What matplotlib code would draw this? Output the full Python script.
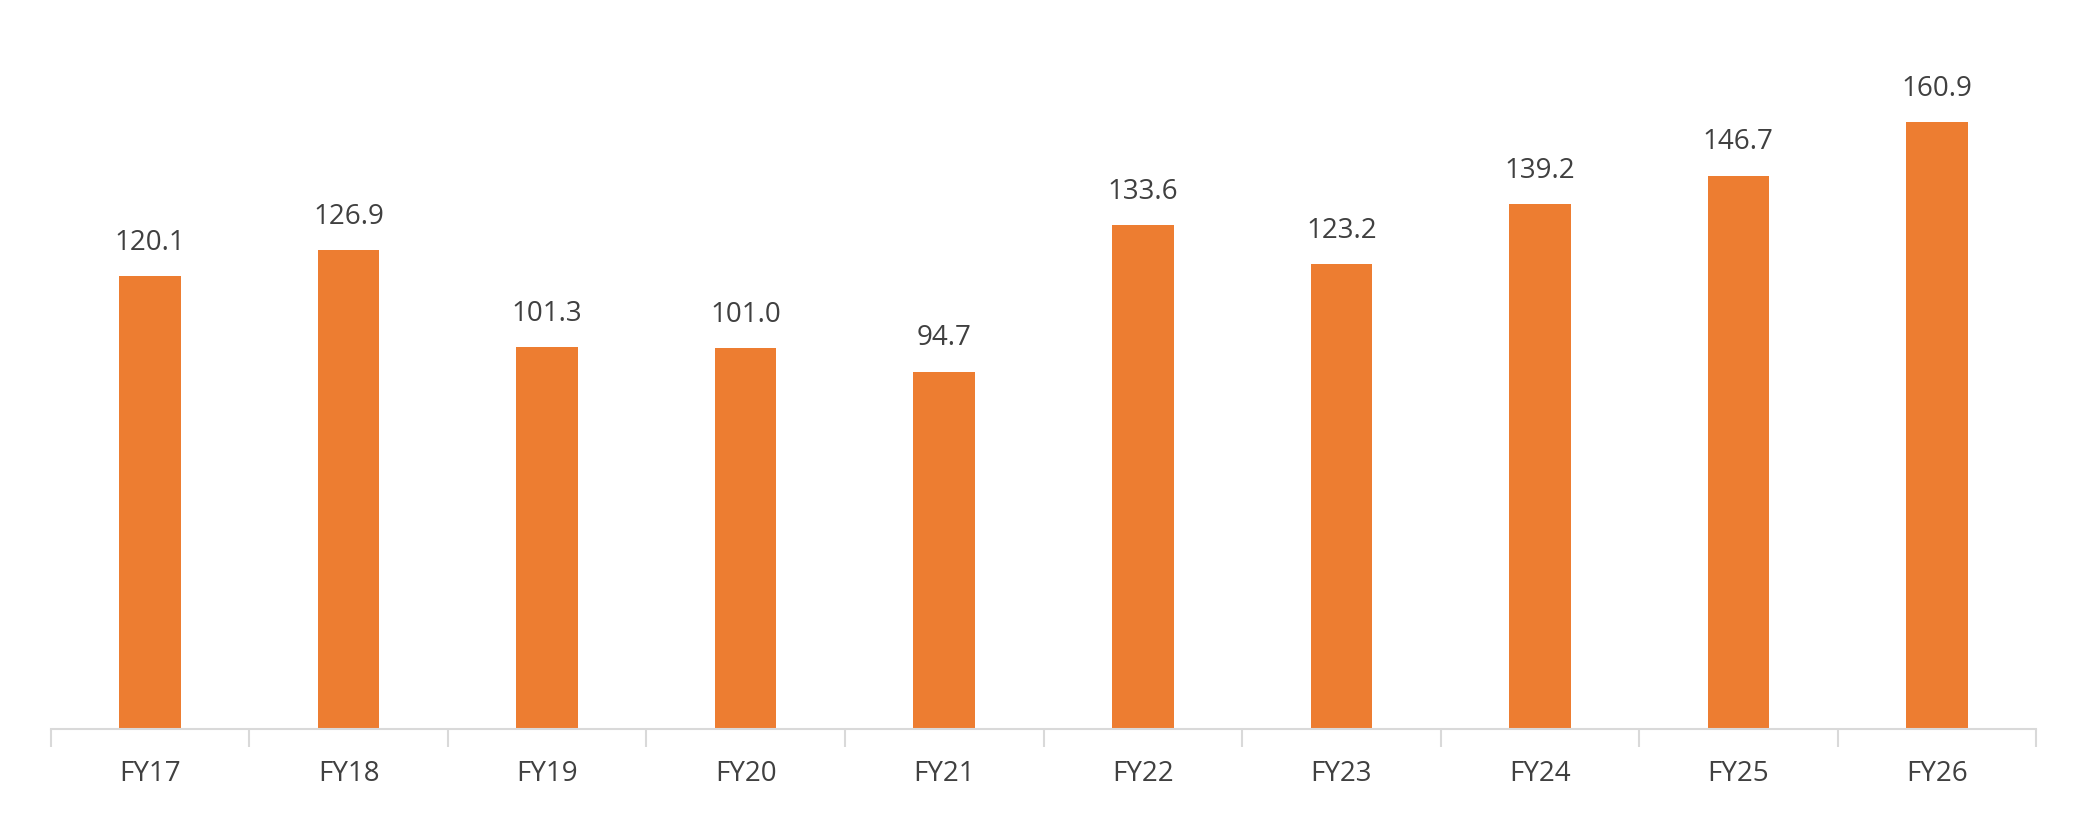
import matplotlib.pyplot as plt
import numpy as np

years = ["FY17", "FY18", "FY19", "FY20", "FY21", "FY22", "FY23", "FY24", "FY25", "FY26"]
values = [120.1, 126.9, 101.3, 101.0, 94.7, 133.6, 123.2, 139.2, 146.7, 160.9]

plt.rcParams['font.family'] = ['Open Sans', 'DejaVu Sans']

fig = plt.figure(figsize=(20.87, 8.36), dpi=100)
ax = fig.add_axes([0.0244, 0.128, 0.9512, 0.872])

x = np.arange(len(years))
ax.bar(x, values, width=0.31, color='#ED7D31')
for xi, v in zip(x, values):
    ax.annotate(f"{v:.1f}", (xi, v), xytext=(0, 14), textcoords='offset points',
                ha='center', va='bottom', fontsize=20, color='#404040')

ax.set_xlim(-0.5, len(years) - 0.5)
ax.set_ylim(0, 193.3)
ax.set_yticks([])
ax.set_xticks(x)
ax.set_xticklabels(years, fontsize=20, color='#404040')
ax.tick_params(axis='x', which='major', length=0, pad=22)
ax.set_xticks(np.arange(-0.5, len(years)), minor=True)
ax.tick_params(axis='x', which='minor', length=13, width=1.5, color='#D9D9D9')
for s in ['top', 'right', 'left']:
    ax.spines[s].set_visible(False)
ax.spines['bottom'].set_color('#D9D9D9')
ax.spines['bottom'].set_linewidth(1.5)

fig.savefig('out.png', dpi=100)
